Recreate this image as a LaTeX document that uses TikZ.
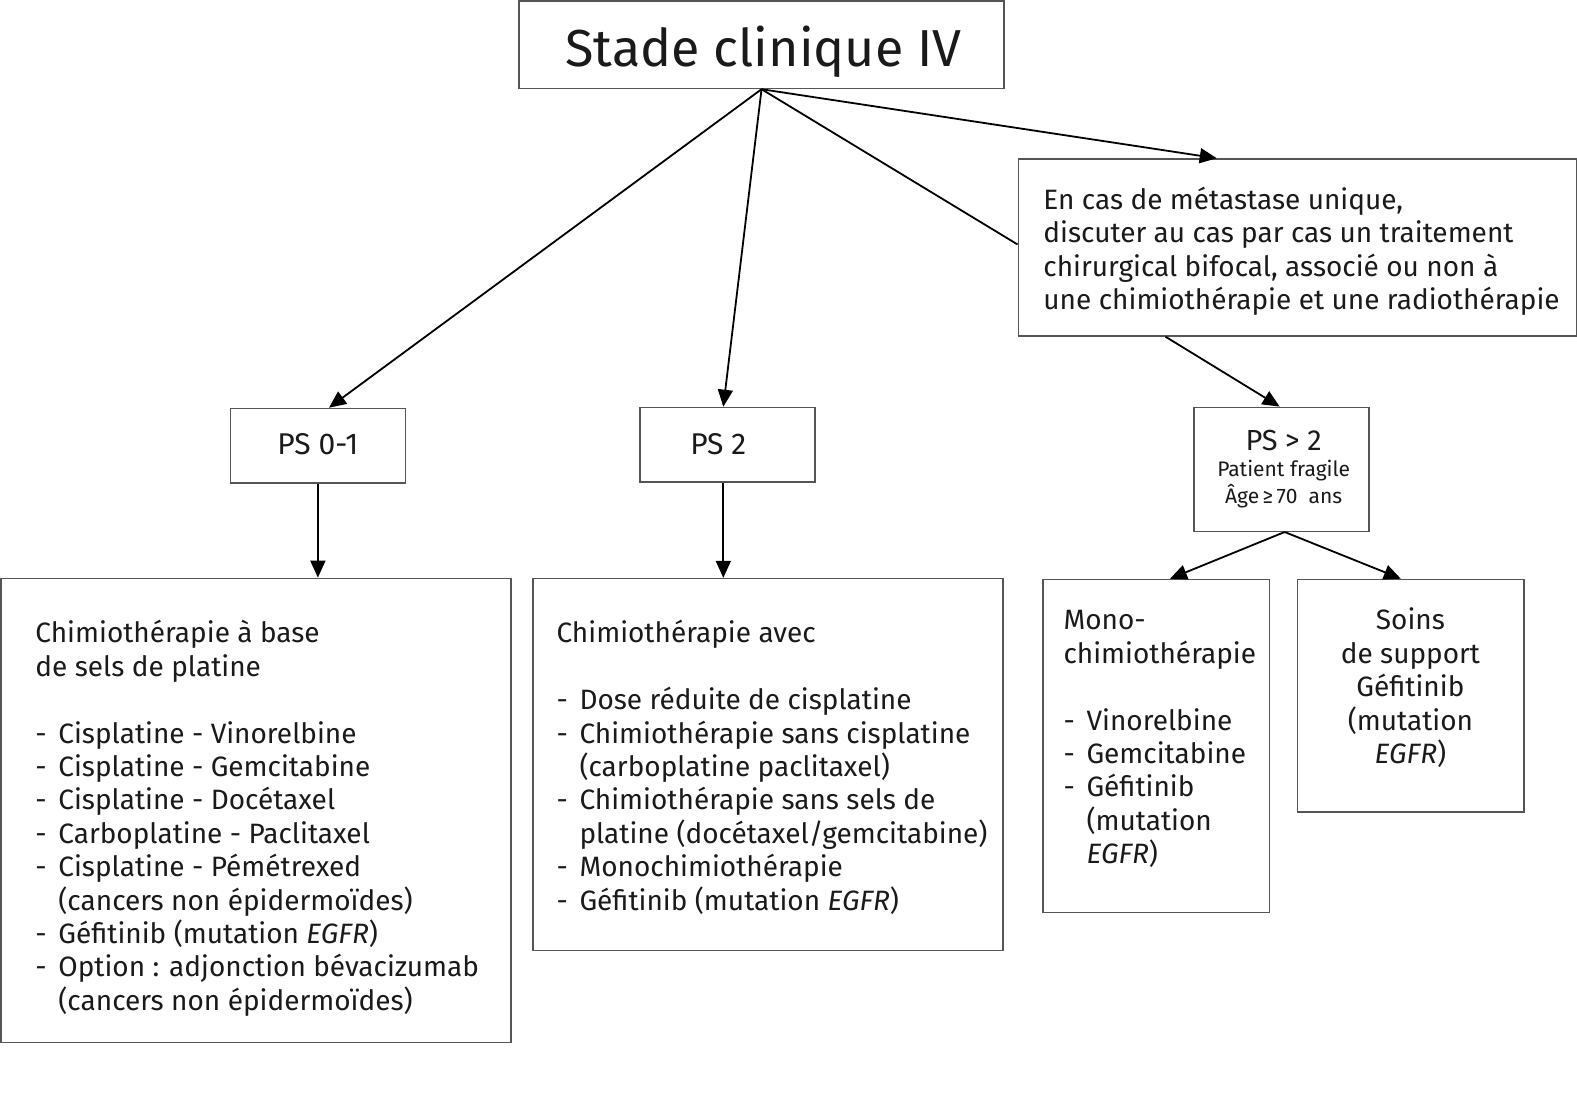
\documentclass[tikz,border=0pt]{standalone}
\usepackage{fontspec}
\setmainfont{Fira Sans}
\usetikzlibrary{arrows.meta,calc}
\definecolor{txtcol}{HTML}{1A1A1A}
\definecolor{boxcol}{HTML}{555555}
\newcommand\itm{\makebox[23pt][l]{-}}
\newcommand\cnt{\hspace*{23pt}}
\newcommand\fst{\rule{0pt}{25pt}}
\begin{document}
\begin{tikzpicture}[x=1.006pt,y=-1.006pt,
  boxst/.style={draw=boxcol, line width=1.4pt, inner sep=0pt, fill=none},
  txt/.style={inner sep=0pt, anchor=north west, align=left, text=txtcol,
    font=\fontsize{28}{33.4}\selectfont},
  ctxt/.style={inner sep=0pt, anchor=north, align=center, text=txtcol,
    font=\fontsize{28}{33.4}\selectfont},
  arr/.style={line width=1.8pt, draw=black, -{Triangle[length=17pt,width=15pt]}},
  ln/.style={line width=1.8pt, draw=black}]
\useasboundingbox (0,0) rectangle (1567.6,1105.4);
\fill[white] (0,0) rectangle (1567.6,1105.4);

% boxes
\node[boxst, minimum width=485pt, minimum height=87.5pt] (top) at (757,44.5) {};
\node[inner sep=0pt, text=txtcol, font=\fontsize{52}{60}\selectfont, anchor=base] (toptxt) at (759,66) {Stade clinique IV};

\node[boxst, minimum width=558pt, minimum height=177pt] (met) at (1289.5,246) {};
\node[txt] (mettxt) at (1037,183) {\fst En cas de métastase unique,\\discuter au cas par cas un traitement\\chirurgical bifocal, associé ou non à\\une chimiothérapie et une radiothérapie};

\node[boxst, minimum width=175pt, minimum height=74.5pt] (ps01) at (316,443) {};
\node[inner sep=0pt, text=txtcol, font=\fontsize{30}{33}\selectfont, anchor=base] (ps01txt) at (316,452) {PS 0-1};

\node[boxst, minimum width=175pt, minimum height=74.5pt] (ps2) at (723,442) {};
\node[inner sep=0pt, text=txtcol, font=\fontsize{30}{33}\selectfont, anchor=base] (ps2txt) at (714,452) {PS 2};

\node[boxst, minimum width=175pt, minimum height=124pt] (psg) at (1274,466.5) {};
\node[inner sep=0pt, text=txtcol, font=\fontsize{29}{33}\selectfont, anchor=base] (psgtxt) at (1276,448) {PS > 2};
\node[inner sep=0pt, text=txtcol, font=\fontsize{21}{24}\selectfont, anchor=base] (psgtxtb) at (1276,474) {Patient fragile};
\node[inner sep=0pt, text=txtcol, font=\fontsize{21}{24}\selectfont, anchor=base] (psgtxtc) at (1276,500) {Âge\,≥\,70~~ans};

\node[boxst, minimum width=510pt, minimum height=464pt] (b1) at (254.5,805.5) {};
\node[txt] (b1txt) at (35,614) {\fst Chimiothérapie à base\\de sels de platine\\[33.4pt]
\itm Cisplatine - Vinorelbine\\
\itm Cisplatine - Gemcitabine\\
\itm Cisplatine - Docétaxel\\
\itm Carboplatine - Paclitaxel\\
\itm Cisplatine - Pémétrexed\\
\cnt(cancers non épidermoïdes)\\
\itm Géfitinib (mutation \textit{EGFR})\\
\itm Option : adjonction bévacizumab\\
\cnt(cancers non épidermoïdes)};

\node[boxst, minimum width=470pt, minimum height=372pt] (b2) at (763.5,760) {};
\node[txt] (b2txt) at (553,614) {\fst Chimiothérapie avec\\[33.4pt]
\itm Dose réduite de cisplatine\\
\itm Chimiothérapie sans cisplatine\\
\cnt(carboplatine paclitaxel)\\
\itm Chimiothérapie sans sels de\\
\cnt platine (docétaxel/gemcitabine)\\
\itm Monochimiothérapie\\
\itm Géfitinib (mutation \textit{EGFR})};

\node[boxst, minimum width=226.5pt, minimum height=333pt] (mono) at (1149.5,741.5) {};
\node[txt] (monotxt) at (1057,601) {\fst Mono-\\chimiothérapie\\[33.4pt]
\itm Vinorelbine\\
\itm Gemcitabine\\
\itm Géfitinib\\
\cnt(mutation\\
\cnt\textit{EGFR})};

\node[boxst, minimum width=226.5pt, minimum height=232.5pt] (soins) at (1402.5,691.5) {};
\node[ctxt] (soinstxt) at (1402,601) {\fst Soins\\de support\\Géfitinib\\(mutation\\\textit{EGFR})};

% connectors
\draw[arr] (top.south) -- ($(ps01.north)+(11,0)$);
\draw[arr] (top.south) -- ($(ps2.north)+(-4,0)$);
\draw[ln]  (top.south) -- ($(met.west)+(0,-3)$);
\draw[arr] (top.south) -- ($(met.north)+(-80,0)$);
\draw[arr] ($(met.south)+(-131,0)$) -- ($(psg.north)+(-2,0)$);
\draw[arr] (ps01.south) -- (ps01.south |- b1.north);
\draw[arr] ($(ps2.south)+(-4,0)$) -- ($(ps2.south |- b2.north)+(-4,0)$);
\draw[arr] ($(psg.south)+(3,0)$) -- ($(mono.north)+(13.5,0)$);
\draw[arr] ($(psg.south)+(3,0)$) -- ($(soins.north)+(-10,0)$);
\end{tikzpicture}
\end{document}
